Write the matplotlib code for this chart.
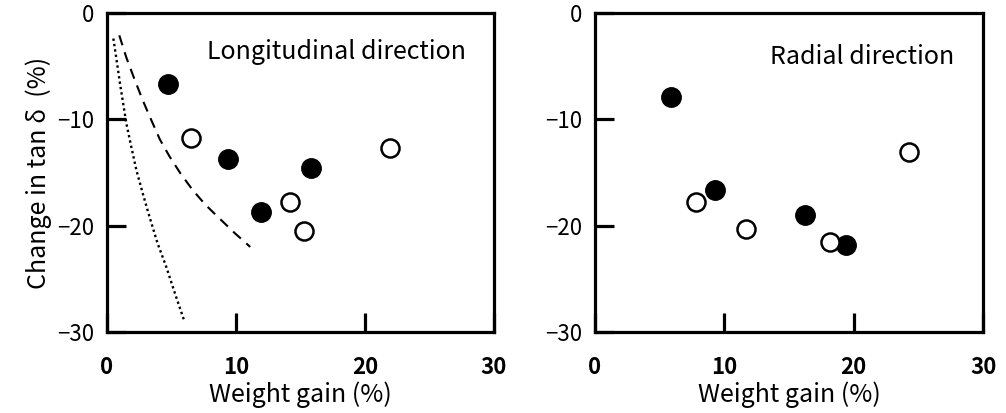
import matplotlib.pyplot as plt

plt.rcParams['font.family'] = ['Noto Sans CJK JP', 'DejaVu Sans']

# Longitudinal direction
lon_filled_x = [4.7, 9.4, 11.9, 15.8]
lon_filled_y = [-6.7, -13.7, -18.7, -14.6]
lon_open_x = [6.5, 14.2, 15.3, 21.9]
lon_open_y = [-11.8, -17.8, -20.5, -12.7]

# curves
dash_x = [0.95, 1.5, 2.15, 2.8, 3.44, 4.1, 4.85, 5.7, 6.64, 7.6, 8.7, 9.9, 11.1]
dash_y = [-2.1, -4.2, -6.3, -8.3, -10.1, -11.9, -13.5, -15.1, -16.65, -18.0, -19.3, -20.7, -22.0]
dot_x = [0.49, 0.75, 1.0, 1.25, 1.5, 1.9, 2.28, 2.8, 3.3, 3.9, 4.6, 5.3, 6.0]
dot_y = [-2.4, -4.5, -6.6, -8.5, -10.4, -12.7, -14.8, -17.1, -19.2, -21.6, -23.9, -26.5, -29.0]

# Radial direction
rad_filled_x = [5.9, 9.3, 16.2, 19.4]
rad_filled_y = [-7.9, -16.65, -19.0, -21.8]
rad_open_x = [7.8, 11.65, 18.2, 24.3]
rad_open_y = [-17.75, -20.3, -21.5, -13.1]

xticks = [0, 10, 20, 30]
yticks = [0, -10, -20, -30]

fig = plt.figure(figsize=(10.06, 4.13), dpi=100)
ax1 = fig.add_axes([0.1064, 0.1961, 0.3847, 0.7724])
ax2 = fig.add_axes([0.5915, 0.1961, 0.3857, 0.7724])


def style(ax):
    ax.set_xlim(0, 30)
    ax.set_ylim(-30, 0)
    for s in ax.spines.values():
        s.set_linewidth(2.3)
    ax.set_xticks(xticks)
    ax.set_yticks(yticks)
    ax.set_xticklabels([str(t) for t in xticks], fontsize=16, fontweight='bold')
    ax.set_yticklabels(['0', '\u221210', '\u221220', '\u221230'], fontsize=16)
    ax.tick_params(axis='x', direction='in', length=14, width=2.3, pad=17)
    ax.tick_params(axis='y', direction='in', length=14, width=2.3, pad=9)
    ax.set_xlabel('Weight gain (%)', fontsize=18, labelpad=2)


ax1.plot(dash_x, dash_y, color='black', linestyle=(0, (5, 3.5)), linewidth=1.5)
ax1.plot(dot_x, dot_y, color='black', linestyle=(0, (1, 1.3)), linewidth=1.7)
ax1.plot(lon_filled_x, lon_filled_y, 'o', ms=14, color='black')
ax1.plot(lon_open_x, lon_open_y, 'o', ms=13, mfc='white', mec='black', mew=1.8)
ax1.text(0.593, 0.878, 'Longitudinal direction', transform=ax1.transAxes,
         fontsize=18, ha='center', va='center')
ax1.set_ylabel('Change in tan δ  (%)', fontsize=18, labelpad=4)
style(ax1)

ax2.plot(rad_filled_x, rad_filled_y, 'o', ms=14, color='black')
ax2.plot(rad_open_x, rad_open_y, 'o', ms=13, mfc='white', mec='black', mew=1.8)
ax2.text(0.688, 0.862, 'Radial direction', transform=ax2.transAxes,
         fontsize=18, ha='center', va='center')
style(ax2)

fig.savefig('out.png', dpi=100)
